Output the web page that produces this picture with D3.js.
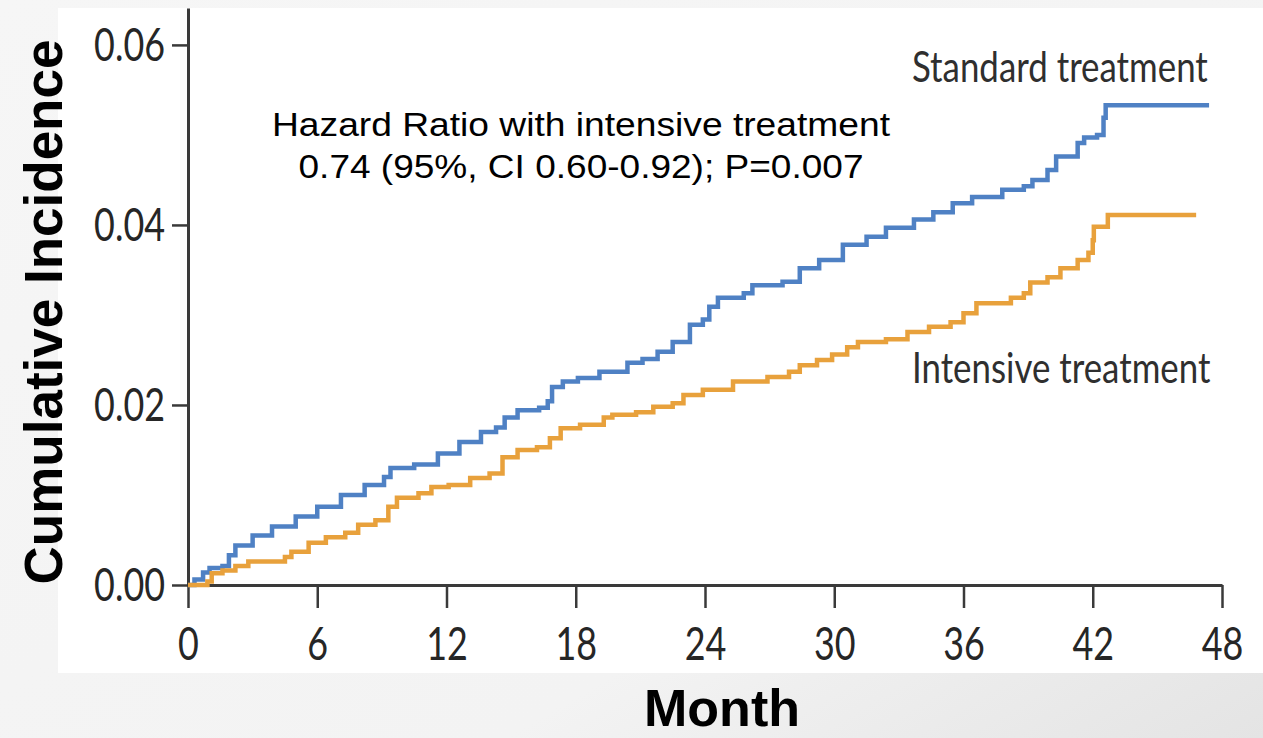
<!DOCTYPE html>
<html>
<head>
<meta charset="utf-8">
<script src="https://cdn.jsdelivr.net/npm/d3@7"></script>
<style>
  html, body { margin: 0; padding: 0; background: #f1f1f1; }
  svg { display: block; }
</style>
</head>
<body>
<svg id="chart" width="1263" height="738"></svg>
<script>
// ---- data ----
const stdMonths = [0,0.3,0.7,1.0,1.6,1.9,2.2,3.0,3.9,5.0,6.0,7.1,8.2,9.1,9.4,10.5,11.6,12.6,13.6,14.3,14.7,15.3,16.3,16.7,16.9,17.4,18.1,19.1,20.4,21.1,21.8,22.5,23.3,23.9,24.2,24.6,25.8,26.2,27.6,28.4,29.3,30.4,31.5,32.4,33.7,34.6,35.5,36.4,37.8,38.8,39.2,39.9,40.3,41.3,41.6,42.2,42.5,42.6,47.4];
const stdValues = [0,0.0006,0.0014,0.0019,0.0021,0.0033,0.0044,0.0055,0.0065,0.0076,0.0087,0.0100,0.0111,0.0120,0.0130,0.0134,0.0146,0.0159,0.0170,0.0175,0.0186,0.0194,0.0197,0.0204,0.0220,0.0226,0.0230,0.0237,0.0247,0.0251,0.0259,0.0270,0.0289,0.0295,0.0309,0.0319,0.0324,0.0333,0.0337,0.0352,0.0361,0.0378,0.0387,0.0397,0.0406,0.0414,0.0424,0.0431,0.0439,0.0443,0.0450,0.0461,0.0476,0.0491,0.0497,0.0500,0.0519,0.0533,0.0533];
const intMonths = [0,0.9,1.1,1.6,2.2,2.8,4.5,4.8,5.6,6.4,7.3,7.9,8.7,9.3,9.7,10.7,11.3,12.1,13.1,14.0,14.6,15.3,16.2,16.8,17.3,18.2,19.3,19.7,20.8,21.6,22.5,23.0,23.9,25.3,26.9,27.9,28.4,29.2,29.9,30.6,31.1,32.4,33.4,34.4,35.4,36.0,36.6,38.2,38.8,39.1,39.9,40.5,41.3,41.8,42.0,42.05,42.6,42.7,46.8];
const intValues = [0,0.0004,0.0013,0.0016,0.0021,0.0026,0.0031,0.0037,0.0047,0.0053,0.0058,0.0067,0.0072,0.0087,0.0097,0.0102,0.0109,0.0111,0.0119,0.0124,0.0142,0.0150,0.0153,0.0163,0.0174,0.0178,0.0186,0.0189,0.0192,0.0198,0.0202,0.0211,0.0217,0.0226,0.0231,0.0237,0.0244,0.0250,0.0256,0.0264,0.0270,0.0273,0.0281,0.0287,0.0292,0.0302,0.0313,0.0319,0.0324,0.0336,0.0342,0.0352,0.0361,0.0369,0.0383,0.0398,0.0398,0.0411,0.0411];
const xTicks = [0,6,12,18,24,30,36,42,48];
const yTicks = [0,0.02,0.04,0.06];
const seriesNames = ["Standard treatment","Intensive treatment"];
const seriesColors = ["#4f81c4","#e8a13c"];
const noteLines = ["Hazard Ratio with intensive treatment","0.74 (95%, CI 0.60-0.92); P=0.007"];
const xTitle = "Month";
const yTitle = "Cumulative Incidence";

// ---- layout ----
const svg = d3.select("#chart");
const defs = svg.append("defs");
const bg = defs.append("linearGradient").attr("id","bg").attr("x1","0").attr("y1","0").attr("x2","1").attr("y2","1");
bg.append("stop").attr("offset","0").attr("stop-color","#f6f6f6");
bg.append("stop").attr("offset","0.7").attr("stop-color","#f3f3f3");
bg.append("stop").attr("offset","1").attr("stop-color","#e4e4e4");
svg.append("rect").attr("width",1263).attr("height",738).attr("fill","url(#bg)");
svg.append("rect").attr("x",58).attr("y",8).attr("width",1205).attr("height",665).attr("fill","#ffffff");

const x = d3.scaleLinear().domain([0,48]).range([188,1222]);
const y = d3.scaleLinear().domain([0,0.0641]).range([585,8]);

const axisColor = "#3a3a3a";
const tickFont = "Lato, 'Liberation Sans', sans-serif";

// X axis
const gx = svg.append("g").attr("transform","translate(0,585)")
  .call(d3.axisBottom(x).tickValues(xTicks).tickSize(23).tickSizeOuter(0).tickFormat(d3.format("d")));
gx.select(".domain").attr("stroke",axisColor).attr("stroke-width",3);
gx.selectAll(".tick line").attr("stroke",axisColor).attr("stroke-width",2.5);
gx.selectAll(".tick text")
  .attr("y",0).attr("dy",0)
  .attr("transform","translate(0,75) scale(0.78,1)")
  .attr("fill","#262626").style("font-family",tickFont).style("font-size","46px");

// Y axis
const gy = svg.append("g").attr("transform","translate(188,0)")
  .call(d3.axisLeft(y).tickValues(yTicks).tickSize(16).tickSizeOuter(0).tickFormat(d3.format(".2f")));
gy.select(".domain").attr("stroke",axisColor).attr("stroke-width",3);
gy.selectAll(".tick line").attr("stroke",axisColor).attr("stroke-width",2.5);
gy.selectAll(".tick text")
  .attr("x",0).attr("dy","0.34em")
  .attr("transform","translate(-23,0) scale(0.78,1)")
  .attr("fill","#262626").style("font-family",tickFont).style("font-size","46px");

// Lines
const line = d3.line().x(d => x(d[0])).y(d => y(d[1])).curve(d3.curveStepAfter);
const seriesData = [
  d3.zip(stdMonths, stdValues),
  d3.zip(intMonths, intValues)
];
svg.selectAll("path.km").data(seriesData).join("path")
  .attr("class","km")
  .attr("d", line)
  .attr("fill","none")
  .attr("stroke",(d,i) => seriesColors[i])
  .attr("stroke-width",4.5)
  .attr("stroke-linejoin","miter");

// Series labels (horizontally condensed)
const labelFont = "Lato, 'Liberation Sans', sans-serif";
const labelPos = [[912,82],[912,383]];
seriesNames.forEach((t,i) => {
  svg.append("text")
    .attr("transform",`translate(${labelPos[i][0]},${labelPos[i][1]}) scale(0.83,1)`)
    .style("font-family",labelFont).style("font-size","42px").attr("fill","#2f2f2f")
    .text(t);
});

// Hazard ratio note
const noteY = [136,178];
const noteW = [618,565];
noteLines.forEach((t,i) => {
  svg.append("text").attr("x",581 - noteW[i]/2).attr("y",noteY[i])
    .attr("textLength",noteW[i]).attr("lengthAdjust","spacingAndGlyphs")
    .style("font-family","'Liberation Sans', Arial, sans-serif").style("font-size","34px")
    .attr("fill","#000").text(t);
});

// Axis titles
svg.append("text").attr("x",722).attr("y",726).attr("text-anchor","middle")
  .style("font-family","'Liberation Sans', Arial, sans-serif").style("font-weight","bold")
  .style("font-size","52px").attr("fill","#000").text(xTitle);
svg.append("text").attr("transform","translate(62,312) rotate(-90)").attr("text-anchor","middle")
  .style("font-family","'Liberation Sans', Arial, sans-serif").style("font-weight","bold")
  .style("font-size","53px").attr("fill","#000").text(yTitle);
</script>
</body>
</html>
